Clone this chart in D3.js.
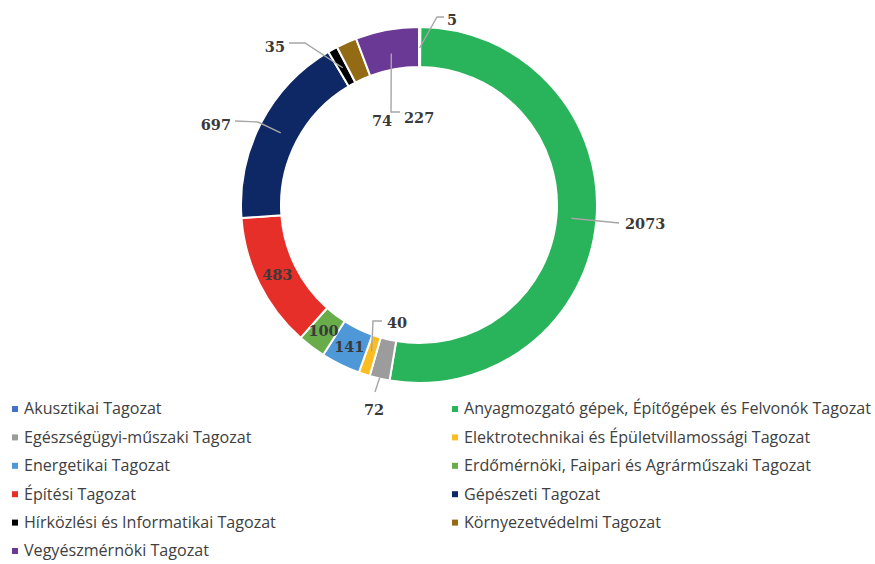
<!DOCTYPE html>
<html>
<head>
<meta charset="utf-8">
<script src="https://cdn.jsdelivr.net/npm/d3@7"></script>
<style>
  body { margin: 0; background: #fff; }
  svg { display: block; }
</style>
</head>
<body>
<svg width="875" height="564"></svg>
<script>
const categories = [
  "Akusztikai Tagozat",
  "Anyagmozgató gépek, Építőgépek és Felvonók Tagozat",
  "Egészségügyi-műszaki Tagozat",
  "Elektrotechnikai és Épületvillamossági Tagozat",
  "Energetikai Tagozat",
  "Erdőmérnöki, Faipari és Agrárműszaki Tagozat",
  "Építési Tagozat",
  "Gépészeti Tagozat",
  "Hírközlési és Informatikai Tagozat",
  "Környezetvédelmi Tagozat",
  "Vegyészmérnöki Tagozat"
];
const values = [5, 2073, 72, 40, 141, 100, 483, 697, 35, 74, 227];
const colors = [
  "#4472c4", "#29b35a", "#9c9c9c", "#fbbd1f", "#4e98d8", "#68ad4a",
  "#e62f28", "#0e2865", "#000000", "#936b15", "#6a3995"
];

// label placement, relative to the chart centre
// in: at centroid; out: leader from radius r, through pts, text at t
const labelLayout = [
  { r: 157, pts: [[18, -188], [25, -188]], t: [28, -180], anchor: "start" },
  { r: 153, pts: [[200, 18]], t: [206, 24], anchor: "start" },
  { r: 177, pts: [[-44, 187]], t: [-45, 210], anchor: "middle" },
  { r: 154, pts: [[-46, 116], [-37, 116]], t: [-32, 123], anchor: "start" },
  { inside: true },
  { inside: true },
  { inside: true },
  { r: 156, pts: [[-161, -83], [-184, -84]], t: [-188, -75], anchor: "end" },
  { r: 157, pts: [[-114, -162], [-130, -162]], t: [-134, -153], anchor: "end" },
  { t: [-37, -79], anchor: "middle" },
  { r: 154, pts: [[-28, -93], [-19, -93]], t: [-15, -82], anchor: "start" }
];

const svg = d3.select("svg");
const cx = 419, cy = 205;
const outerR = 178, innerR = 138;

const data = categories.map((c, i) => ({ name: c, value: values[i], color: colors[i], layout: labelLayout[i] }));

const pie = d3.pie().sort(null).value(d => d.value);
const arcs = pie(data);

const arc = d3.arc().innerRadius(innerR).outerRadius(outerR);
const labelArc = d3.arc().innerRadius(158).outerRadius(158);

const g = svg.append("g").attr("transform", `translate(${cx},${cy})`);

g.selectAll("path.slice")
  .data(arcs)
  .join("path")
  .attr("class", "slice")
  .attr("d", arc)
  .attr("fill", d => d.data.color)
  .attr("stroke", "#fff")
  .attr("stroke-width", 2)
  .attr("stroke-linejoin", "round");

// leader lines
const withLeader = arcs.filter(d => d.data.layout.pts);
g.selectAll("path.leader")
  .data(withLeader)
  .join("path")
  .attr("class", "leader")
  .attr("fill", "none")
  .attr("stroke", "#a6a6a6")
  .attr("stroke-width", 1.4)
  .attr("d", d => {
    const a = (d.startAngle + d.endAngle) / 2;
    const r = d.data.layout.r;
    const start = [r * Math.sin(a), -r * Math.cos(a)];
    return d3.line()([start, ...d.data.layout.pts]);
  });

// value labels
g.selectAll("text.val")
  .data(arcs)
  .join("text")
  .attr("class", "val")
  .attr("font-family", "'DejaVu Serif', serif")
  .attr("font-weight", "bold")
  .attr("font-size", 14.5)
  .attr("fill", "#3a3a3a")
  .attr("text-anchor", d => d.data.layout.inside ? "middle" : d.data.layout.anchor)
  .attr("dominant-baseline", d => d.data.layout.inside ? "central" : null)
  .attr("x", d => d.data.layout.inside ? labelArc.centroid(d)[0] : d.data.layout.t[0])
  .attr("y", d => d.data.layout.inside ? labelArc.centroid(d)[1] : d.data.layout.t[1])
  .text(d => d.data.value);

// legend, two columns
const legend = svg.append("g");
const colX = [12, 452];
const rowY = d3.scalePoint().domain(d3.range(6)).range([409, 551]);

const items = legend.selectAll("g.item")
  .data(data)
  .join("g")
  .attr("class", "item")
  .attr("transform", (d, i) => `translate(${colX[i % 2]},${rowY(Math.floor(i / 2))})`);

items.append("rect")
  .attr("x", 0)
  .attr("y", -3)
  .attr("width", 6)
  .attr("height", 6)
  .attr("fill", d => d.color);

items.append("text")
  .attr("x", 12)
  .attr("dy", "0.33em")
  .attr("font-family", "'Open Sans', sans-serif")
  .attr("font-size", 16.1)
  .attr("fill", "#404040")
  .text(d => d.name);
</script>
</body>
</html>
